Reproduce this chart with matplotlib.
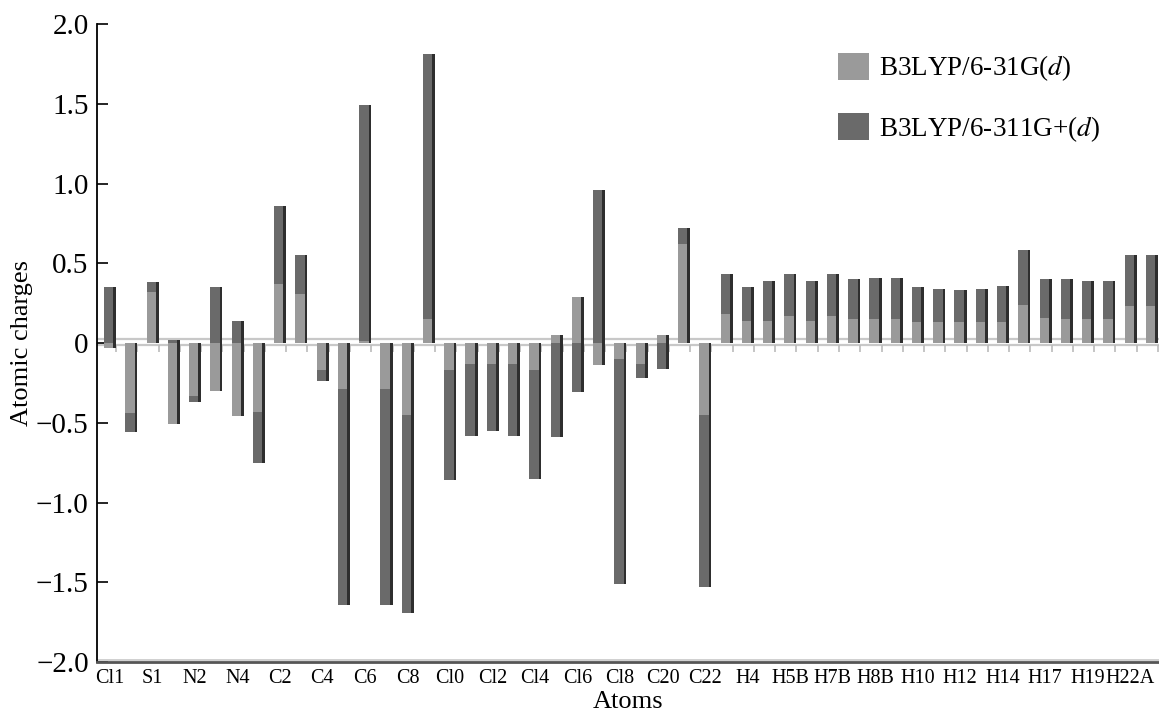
import matplotlib
matplotlib.use('Agg')
import matplotlib.pyplot as plt
import numpy as np
from matplotlib.patches import Patch

plt.rcParams['font.family'] = ['Liberation Serif', 'DejaVu Serif']
plt.rcParams['mathtext.fontset'] = 'stix'

# every other atom is labelled on the axis
atom_labels = ['Cl1', 'S1', 'N2', 'N4', 'C2', 'C4', 'C6', 'C8', 'Cl0', 'Cl2',
               'Cl4', 'Cl6', 'Cl8', 'C20', 'C22', 'H4', 'H5B', 'H7B', 'H8B',
               'H10', 'H12', 'H14', 'H17', 'H19', 'H22A']

# B3LYP/6-31G(d)
q_631 = [-0.03, -0.44, 0.32, -0.51, -0.33, -0.30, -0.46, -0.43, 0.37, 0.31,
         -0.17, -0.29, 0.01, -0.29, -0.45, 0.15, -0.17, -0.13, -0.13, -0.13,
         -0.17, 0.05, 0.29, -0.14, -0.10, -0.13, 0.05, 0.62, -0.45, 0.18,
         0.14, 0.14, 0.17, 0.14, 0.17, 0.15, 0.15, 0.15, 0.13, 0.13,
         0.13, 0.13, 0.13, 0.24, 0.16, 0.15, 0.15, 0.15, 0.23, 0.23]

# B3LYP/6-311G+(d)
q_6311 = [0.35, -0.56, 0.38, 0.02, -0.37, 0.35, 0.14, -0.75, 0.86, 0.55,
          -0.24, -1.64, 1.49, -1.64, -1.69, 1.81, -0.86, -0.58, -0.55, -0.58,
          -0.85, -0.59, -0.31, 0.96, -1.51, -0.22, -0.16, 0.72, -1.53, 0.43,
          0.35, 0.39, 0.43, 0.39, 0.43, 0.40, 0.41, 0.41, 0.35, 0.34,
          0.33, 0.34, 0.355, 0.585, 0.40, 0.40, 0.39, 0.39, 0.55, 0.55]

y_ticks = [2.0, 1.5, 1.0, 0.5, 0, -0.5, -1.0, -1.5, -2.0]
y_ticklabels = ['2.0', '1.5', '1.0', '0.5', '0', '\u22120.5', '\u22121.0', '\u22121.5', '\u22122.0']

c_light = '#9a9a9a'
c_dark = '#6a6a6a'
c_side = '#2e2e2e'

fig = plt.figure(figsize=(11.59, 7.15), dpi=100)
ax = fig.add_axes([0.0837, 0.0741, 0.9163, 0.8923])

x = np.arange(len(q_631))
w = 0.44
sw = 0.13

# floor lines around zero (3d look)
ax.axhline(0.025, color='#c8c8c8', lw=1.6, zorder=1)
ax.axhline(-0.012, color='#c8c8c8', lw=1.6, zorder=1)
ax.vlines(x + 0.3, -0.012, -0.055, color='#bbbbbb', lw=1.2, zorder=1)
ax.axhline(-1.985, color='#d0d0d0', lw=1.4, zorder=1)

# dark series behind, light series in front
ax.bar(x - 0.05, q_6311, width=w, color=c_dark, zorder=2)
ax.bar(x - 0.05 + w / 2 + sw / 2, q_6311, width=sw, color=c_side, zorder=2)
ax.bar(x - 0.05, q_631, width=w, color=c_light, zorder=3)
ax.bar(x - 0.05 + w / 2 + sw / 2, q_631, width=sw, color=c_side, zorder=3)

ax.set_xlim(-0.6, 49.35)
ax.set_ylim(-2.0, 2.0)
ax.set_yticks(y_ticks)
ax.set_yticklabels(y_ticklabels, fontsize=21)
ax.tick_params(axis='y', direction='in', length=8, width=1.2, pad=6)
ax.set_xticks(x[::2])
ax.set_xticklabels(atom_labels, fontsize=14.5)
ax.tick_params(axis='x', length=0, pad=5)

for s in ['top', 'right']:
    ax.spines[s].set_visible(False)
ax.spines['left'].set_linewidth(1.3)
ax.spines['bottom'].set_color('#555555')
ax.spines['bottom'].set_linewidth(2)

ax.set_ylabel('Atomic charges', fontsize=19, labelpad=2)
ax.set_xlabel('Atoms', fontsize=19, labelpad=2)

handles = [Patch(facecolor=c_light, edgecolor='none'),
           Patch(facecolor=c_dark, edgecolor='none')]
ax.legend(handles, ['B3LYP/6-31G($\\mathit{d}$)', 'B3LYP/6-311G+($\\mathit{d}$)'],
          loc='upper left', bbox_to_anchor=(0.675, 0.993), frameon=False,
          fontsize=19.5, handlelength=1.15, handleheight=1.15, labelspacing=1.1,
          handletextpad=0.35)

fig.savefig('out.png', dpi=100)
